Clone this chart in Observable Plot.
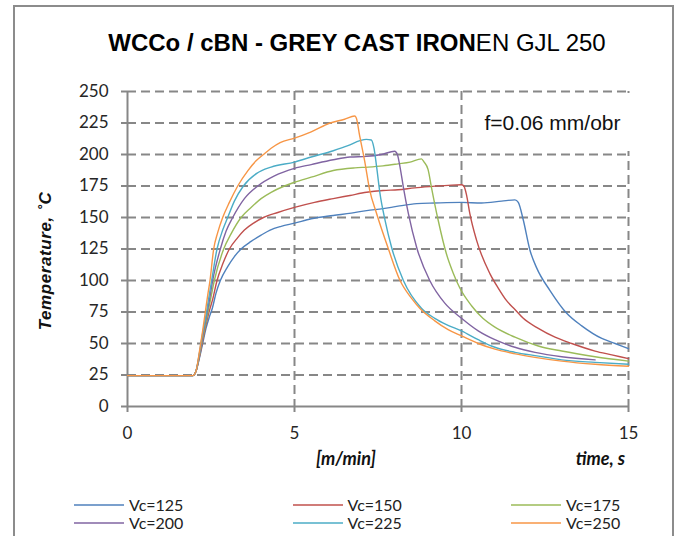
<!DOCTYPE html>
<html><head><meta charset="utf-8">
<script src="https://cdn.jsdelivr.net/npm/d3@7"></script>
<script src="https://cdn.jsdelivr.net/npm/@observablehq/plot@0.6"></script>
<style>
body{margin:0;background:#fff;width:676px;height:536px;overflow:hidden;position:relative;font-family:Lato,sans-serif;}
#frame{position:absolute;left:13px;top:5px;width:657px;height:600px;border:2px solid #8c8c8c;}
#title{position:absolute;left:357px;top:31px;transform:translateX(-50%);white-space:nowrap;font-family:"Liberation Sans",Arial,sans-serif;font-size:24px;color:#000;line-height:1;}
#title b{font-weight:bold;}
#chart{position:absolute;left:0;top:60px;}
#ytitle{position:absolute;left:46px;top:261px;transform:translate(-50%,-50%) rotate(-90deg);white-space:nowrap;font-family:"Liberation Sans",Arial,sans-serif;font-weight:bold;font-style:italic;font-size:17px;letter-spacing:0.6px;color:#111;}
.xt{position:absolute;top:449px;font-weight:bold;font-style:italic;font-size:18px;color:#111;white-space:nowrap;line-height:1;}
#legend .item{position:absolute;display:flex;align-items:center;font-size:16px;color:#222;line-height:1;white-space:nowrap;}
#legend svg{display:block;margin-right:5px;}
</style></head>
<body>
<div id="frame"></div>
<div id="title"><b>WCCo / cBN - GREY CAST IRON</b>EN GJL 250</div>
<div id="chart"></div>
<div id="ytitle">Temperature, ˚C</div>
<div class="xt" id="xunit" style="left:346px;transform:translateX(-50%)">[m/min]</div>
<div class="xt" id="xtime" style="right:51px">time, s</div>
<div id="legend"></div>
<script>
const seriesNames = ["Vc=125","Vc=150","Vc=175","Vc=200","Vc=225","Vc=250"];
const seriesColors = ["#4F81BD","#C0504D","#9BBB59","#8064A2","#4BACC6","#F79646"];
const xTicks = [0,5,10,15];
const yTicks = [0,25,50,75,100,125,150,175,200,225,250];
const noteText = "f=0.06 mm/obr";

const vc125 = [[0,24.5],[1.95,24.5],[2.05,28],[2.15,38],[2.25,50],[2.35,62],[2.45,71],[2.54,78],[2.65,90],[2.78,100],[3.0,111],[3.2,119],[3.4,125],[3.7,131],[4.0,136],[4.27,140],[4.6,143],[5.0,145.5],[5.5,149],[6.16,151.6],[6.7,153.5],[7.16,155.5],[7.65,157],[8.1,159],[8.66,161],[9.2,161.5],[10.0,162],[10.6,161.5],[11.2,163],[11.6,164],[11.7,162],[11.85,148],[12.05,124],[12.25,110],[12.65,92],[13.15,74],[13.6,64],[14.2,54],[14.6,50],[15.0,46]];
const vc150 = [[0,24.5],[1.95,24.5],[2.05,28],[2.15,39],[2.25,52],[2.35,65],[2.45,76],[2.55,85],[2.68,100],[2.85,113],[3.05,125],[3.3,134],[3.5,140],[3.8,146],[4.07,150],[4.5,154],[5.0,158],[5.6,162],[6.16,165],[6.66,167.5],[7.16,170],[7.65,171.4],[8.1,172],[8.6,173.5],[9.05,174.5],[9.6,175.5],[10.0,176],[10.07,175],[10.15,168],[10.25,153],[10.45,132],[10.85,105.5],[11.1,94],[11.35,84],[11.6,77],[11.85,70],[12.3,62],[12.8,55],[13.3,50],[14.0,44],[14.5,41],[15.0,38]];
const vc175 = [[0,24.5],[1.95,24.5],[2.05,28],[2.15,40],[2.25,54],[2.35,67],[2.45,80],[2.6,100],[2.88,125],[3.1,137],[3.4,150],[3.7,158],[4.0,165],[4.3,170],[4.7,175],[5.0,178],[5.5,182],[6.16,187.3],[6.81,189.4],[7.2,190],[7.65,191],[8.1,192.6],[8.46,194],[8.8,196.5],[8.88,194],[9.0,188],[9.1,174],[9.3,148],[9.55,121],[9.75,106],[9.95,94],[10.3,80],[10.64,70],[11.0,63],[11.6,55],[12.3,48],[13.0,44],[14.0,39.5],[15.0,36]];
const vc200 = [[0,24.5],[1.95,24.5],[2.05,28],[2.15,41],[2.25,56],[2.35,70],[2.45,84],[2.55,100],[2.78,125],[2.95,139],[3.15,150],[3.5,165],[3.9,175],[4.4,183],[5.0,189],[5.5,192],[6.16,195.8],[6.66,198],[7.16,198.5],[7.6,200],[8.0,202.6],[8.08,200],[8.16,190],[8.26,174],[8.41,153],[8.66,126],[9.05,100],[9.5,82],[10.0,70],[10.5,60],[11.0,53],[11.6,47],[12.2,43],[13.0,39.5],[14.0,37]];
const vc225 = [[0,24.5],[1.95,24.5],[2.05,28],[2.15,42],[2.25,58],[2.35,72],[2.42,84],[2.52,100],[2.68,125],[2.85,140],[3.0,150],[3.2,163],[3.47,175],[3.87,185],[4.3,190],[5.0,194],[5.5,198],[6.16,203],[6.6,207],[6.96,211],[7.15,212],[7.3,211.5],[7.38,205],[7.46,190],[7.56,169],[7.71,148],[7.91,126],[8.26,100],[8.8,78],[9.2,70],[9.55,65],[10.0,60],[10.5,53],[11.0,47],[11.6,43],[12.3,40],[13.0,37],[14.0,35],[15.0,33.5]];
const vc250 = [[0,24.5],[1.95,24.5],[2.05,28],[2.15,43],[2.25,60],[2.33,75],[2.4,88],[2.47,100],[2.58,125],[2.7,138],[2.85,150],[3.05,162],[3.3,175],[3.6,187],[3.85,195],[4.07,200],[4.3,205],[4.57,209.5],[5.0,213],[5.5,218],[6.07,225],[6.5,228],[6.8,230.5],[6.85,229],[6.95,215],[7.1,195],[7.25,172],[7.46,153],[7.8,126],[8.16,100],[8.5,86],[8.75,78],[9.2,68],[9.6,61],[10.0,56],[10.5,50],[11.0,45.5],[11.57,42],[12.2,39],[13.0,36],[14.0,33.5],[15.0,32]];

const seriesData = [vc125, vc150, vc175, vc200, vc225, vc250];
const rows = seriesData.flatMap((pts, i) => pts.map(([t, T]) => ({t, T, s: seriesNames[i]})));

const grid = {stroke:"#878787", strokeOpacity:1, strokeWidth:2, strokeDasharray:"9,5"};
const chart = Plot.plot({
  width:676, height:420,
  marginLeft:127, marginRight:48, marginTop:31, marginBottom:74,
  style:{fontFamily:"Lato, sans-serif", fontSize:"17px", color:"#262626", background:"transparent"},
  x:{domain:[xTicks[0], xTicks[xTicks.length-1]]},
  y:{domain:[yTicks[0], yTicks[yTicks.length-1]]},
  color:{domain:seriesNames, range:seriesColors},
  marks:[
    Plot.gridY(yTicks.slice(1), grid),
    Plot.gridX(xTicks.slice(1), grid),
    Plot.rect([noteText], {x1:() => xTicks[2], x2:() => xTicks[3], y1:() => yTicks[8], y2:() => yTicks[10], fill:"white", insetTop:2, insetBottom:3, insetLeft:2, insetRight:-4}),
    Plot.text([noteText], {text:d => d, frameAnchor:"top-right", dx:-8, dy:24, fontSize:21, fontFamily:"Liberation Sans, Arial, sans-serif", fill:"#111", textAnchor:"end"}),
    Plot.ruleX([xTicks[0]], {stroke:"#878787", strokeWidth:2}),
    Plot.ruleY([yTicks[0]], {stroke:"#878787", strokeWidth:2}),
    Plot.axisY(yTicks, {tickSize:6, tickPadding:13, stroke:"#878787", fill:"#262626", strokeWidth:2, label:null}),
    Plot.axisX(xTicks, {tickSize:6, tickPadding:14, stroke:"#878787", fill:"#262626", strokeWidth:2, label:null}),
    Plot.line(rows, {x:"t", y:"T", stroke:"s", strokeWidth:1.4, curve:"monotone-x"})
  ]
});
document.getElementById("chart").appendChild(chart);

const NS = "http://www.w3.org/2000/svg";
const legend = document.getElementById("legend");
seriesNames.forEach((name, i) => {
  const col = i % 3, row = Math.floor(i / 3);
  const item = document.createElement("div");
  item.className = "item";
  item.style.left = (74 + col * 218.5) + "px";
  item.style.top = (497 + row * 18) + "px";
  const svg = document.createElementNS(NS, "svg");
  svg.setAttribute("width", "50");
  svg.setAttribute("height", "6");
  const ln = document.createElementNS(NS, "line");
  ln.setAttribute("x1", "0"); ln.setAttribute("x2", "50");
  ln.setAttribute("y1", "3"); ln.setAttribute("y2", "3");
  ln.setAttribute("stroke", seriesColors[i]);
  ln.setAttribute("stroke-width", "1.6");
  svg.appendChild(ln);
  item.appendChild(svg);
  item.appendChild(document.createTextNode(name));
  legend.appendChild(item);
});
</script>
</body></html>
